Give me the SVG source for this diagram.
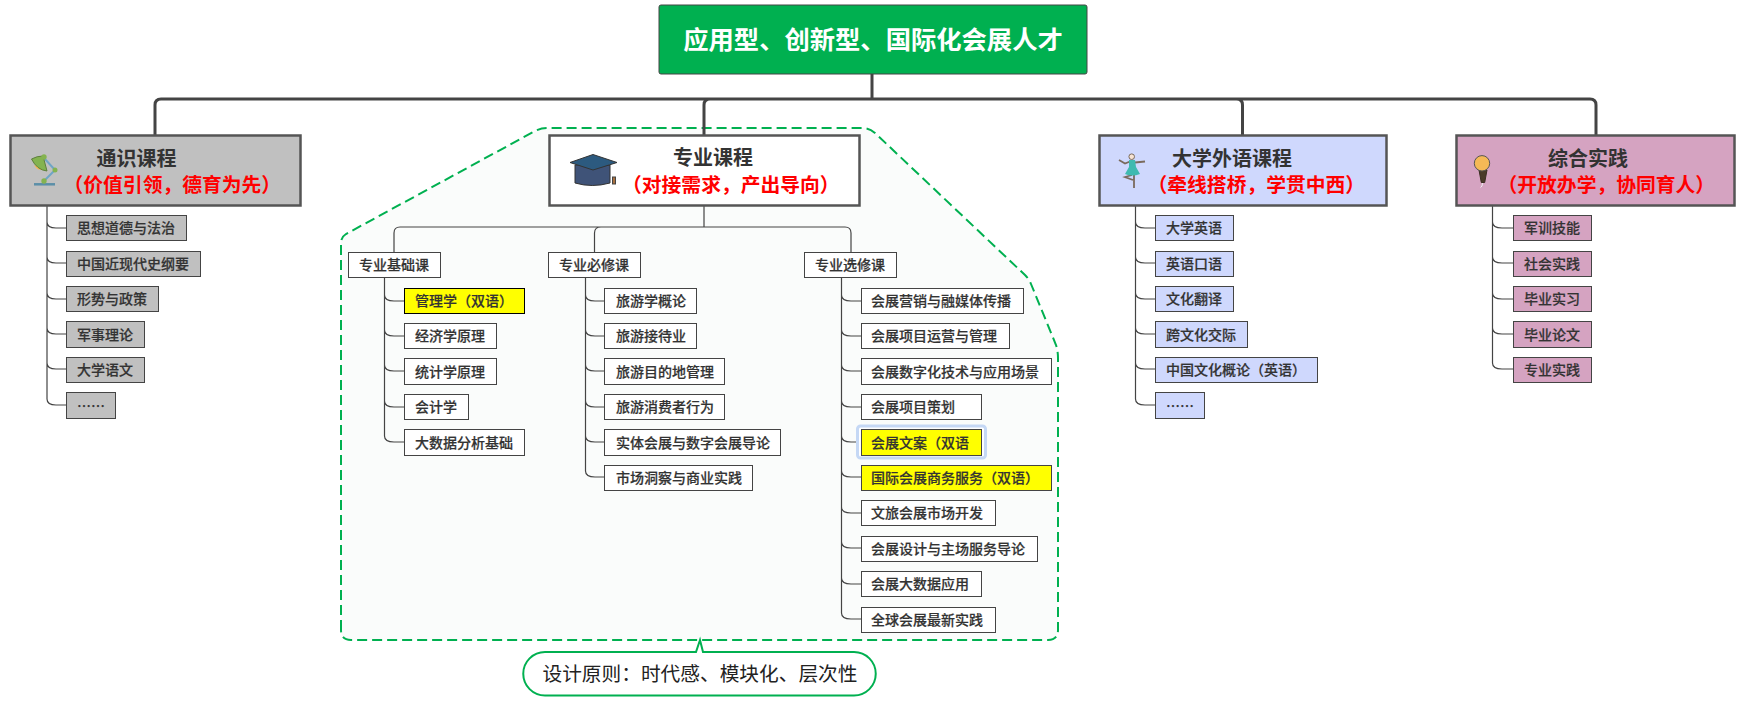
<svg xmlns="http://www.w3.org/2000/svg" width="1745" height="705" viewBox="0 0 1745 705">
<style>
text{font-family:"Noto Sans CJK SC","Noto Sans",sans-serif;fill:#333;font-size:14px;font-weight:500;stroke:#333;stroke-width:.2}
.t{font-size:20px;font-weight:700;stroke:none}
.r{font-size:19.800px;font-weight:700;fill:#f00;stroke:none}
.m{stroke:#444;stroke-width:3;fill:none}
.n{stroke:#444;stroke-width:1.2;fill:none}
rect{stroke:#444;stroke-width:1}
.head{stroke:#555;stroke-width:2.5}
.w{fill:#fff}.g{fill:#c0c0c0}.b{fill:#cfd8fd}.p{fill:#d5a3c1}.y{fill:#ff0}
</style>
<path id="boundary" d="M341,630 V243 Q341,237 346,234 L535,131 Q541,128 547,128 H862 Q869,128 875,133 L1025,275 Q1029,279 1031,284 L1056,345 Q1058,351 1058,358 V630 Q1058,640 1048,640 H351 Q341,640 341,630 Z" fill="#fafcfb" stroke="#00b050" stroke-width="2" stroke-dasharray="10 5"/>
<g id="connectors">
<path class="m" d="M872,74 V99 M155,135 V105 Q155,99 161,99 H1590 Q1596,99 1596,105 V135 M704,135 V105 Q704,99 710,99 M1242.500,135 V105 Q1242.500,99 1236.500,99"/>
<path class="n" d="M704,206 V227 M394,252 V233 Q394,227 400,227 H845 Q851,227 851,233 V252 M594.500,252 V233 Q594.500,227 601,227"/>
<path class="n" d="M47,206 V399 Q47,405 56,405 H66 M47,222 Q47,228 56,228 H66 M47,257 Q47,263 56,263 H66 M47,293 Q47,299 56,299 H66 M47,328 Q47,334 56,334 H66 M47,363 Q47,369 56,369 H66"/>
<path class="n" d="M1135.500,206 V399 Q1135.500,405 1145,405 H1155.500 M1135.500,222 Q1135.500,228 1145,228 H1155.500 M1135.500,257 Q1135.500,263 1145,263 H1155.500 M1135.500,293 Q1135.500,299 1145,299 H1155.500 M1135.500,328 Q1135.500,334 1145,334 H1155.500 M1135.500,363 Q1135.500,369 1145,369 H1155.500"/>
<path class="n" d="M1492.500,206 V363 Q1492.500,369 1502,369 H1513.500 M1492.500,222 Q1492.500,228 1502,228 H1513.500 M1492.500,257 Q1492.500,263 1502,263 H1513.500 M1492.500,293 Q1492.500,299 1502,299 H1513.500 M1492.500,328 Q1492.500,334 1502,334 H1513.500"/>
<path class="n" d="M384.500,277 V436 Q384.500,442 394,442 H404 M384.500,295 Q384.500,301 394,301 H404 M384.500,330 Q384.500,336 394,336 H404 M384.500,365 Q384.500,371 394,371 H404 M384.500,401 Q384.500,407 394,407 H404"/>
<path class="n" d="M585.500,277 V471 Q585.500,477 595,477 H604.500 M585.500,295 Q585.500,301 595,301 H604.500 M585.500,330 Q585.500,336 595,336 H604.500 M585.500,365 Q585.500,371 595,371 H604.500 M585.500,401 Q585.500,407 595,407 H604.500 M585.500,436 Q585.500,442 595,442 H604.500"/>
<path class="n" d="M841.500,277 V613 Q841.500,619 851,619 H861.500 M841.500,295 Q841.500,301 851,301 H861.500 M841.500,330 Q841.500,336 851,336 H861.500 M841.500,365 Q841.500,371 851,371 H861.500 M841.500,401 Q841.500,407 851,407 H861.500 M841.500,436 Q841.500,442 851,442 H861.500 M841.500,471 Q841.500,477 851,477 H861.500 M841.500,507 Q841.500,513 851,513 H861.500 M841.500,542 Q841.500,548 851,548 H861.500 M841.500,578 Q841.500,584 851,584 H861.500"/>
</g>
<g id="root"><rect x="659" y="5" width="428" height="69" rx="2" fill="#00b050" stroke="none"/><text x="873" y="49" text-anchor="middle" style="font-size:25.300px;font-weight:700;fill:#fff;stroke:none">应用型、创新型、国际化会展人才</text></g>

<g id="general"><rect class="head g" x="10.500" y="135.500" width="290" height="70"/>
<path d="M34,184.300 H55" stroke="#5b8fa8" stroke-width="2.500"/><path d="M44,181 L55,170 L44,158" stroke="#6fa5c5" stroke-width="2" fill="none"/>
<path d="M34,165 Q38,172 44,169 Z" fill="#f5b956"/><path d="M31.500,159 Q37,156 43,156 L47,171 Q37,170 31.500,159 Z" fill="#84b350" stroke="#5d7f3c"/>
<circle cx="44" cy="157" r="2.700" fill="#84b350"/><circle cx="55" cy="170" r="2.500" fill="#84b350"/><circle cx="44" cy="181" r="2.700" fill="#84b350"/>
<text class="t" x="96.500" y="166">通识课程</text><text class="r" x="63.500" y="192">（价值引领，德育为先）</text></g>
<g id="g1"><rect class="g" x="66.500" y="215.500" width="120" height="25"/><text x="77" y="233">思想道德与法治</text></g>
<g id="g2"><rect class="g" x="66.500" y="251.500" width="134" height="25"/><text x="77" y="268.500">中国近现代史纲要</text></g>
<g id="g3"><rect class="g" x="66.500" y="286.500" width="92" height="25"/><text x="77" y="304">形势与政策</text></g>
<g id="g4"><rect class="g" x="66.500" y="321.500" width="78" height="26"/><text x="77" y="339.500">军事理论</text></g>
<g id="g5"><rect class="g" x="66.500" y="357.500" width="78" height="25"/><text x="77" y="375">大学语文</text></g>
<g id="g6"><rect class="g" x="66.500" y="392.500" width="49" height="26"/><text x="77" y="410.500">……</text></g>

<g id="major"><rect class="head w" x="549.500" y="135.500" width="310" height="70"/>
<path d="M575,165 H610 V183 Q592,188 575,183 Z" fill="#3f5378" stroke="#333"/><path d="M570,162.500 L593,154.500 L617,162.500 L593,170 Z" fill="#2c5a7f" stroke="#333"/><rect x="612.500" y="177" width="3" height="7" fill="#a8703f" stroke="none"/>
<text class="t" x="673" y="165">专业课程</text><text class="r" x="622" y="192">（对接需求，产出导向）</text></g>
<g id="m-a"><rect class="w" x="348.500" y="252.500" width="92" height="25"/><text x="359" y="270">专业基础课</text></g>
<g id="m-b"><rect class="w" x="548.500" y="252.500" width="92" height="25"/><text x="559" y="270">专业必修课</text></g>
<g id="m-c"><rect class="w" x="804.500" y="252.500" width="92" height="25"/><text x="815" y="270">专业选修课</text></g>

<g id="a1"><rect class="y" x="404.500" y="288.500" width="120" height="25" style="stroke:#000"/><text x="415" y="306">管理学（双语）</text></g>
<g id="a2"><rect class="w" x="404.500" y="323.500" width="92" height="25"/><text x="415" y="341">经济学原理</text></g>
<g id="a3"><rect class="w" x="404.500" y="358.500" width="92" height="26"/><text x="415" y="376.500">统计学原理</text></g>
<g id="a4"><rect class="w" x="404.500" y="394.500" width="64" height="25"/><text x="415" y="412">会计学</text></g>
<g id="a5"><rect class="w" x="404.500" y="429.500" width="120" height="26"/><text x="415" y="447.500">大数据分析基础</text></g>

<g id="b1"><rect class="w" x="604.500" y="288.500" width="92" height="25"/><text x="616" y="306">旅游学概论</text></g>
<g id="b2"><rect class="w" x="604.500" y="323.500" width="92" height="25"/><text x="616" y="341">旅游接待业</text></g>
<g id="b3"><rect class="w" x="604.500" y="358.500" width="120" height="26"/><text x="616" y="376.500">旅游目的地管理</text></g>
<g id="b4"><rect class="w" x="604.500" y="394.500" width="120" height="25"/><text x="616" y="412">旅游消费者行为</text></g>
<g id="b5"><rect class="w" x="604.500" y="429.500" width="176" height="26"/><text x="616" y="447.500">实体会展与数字会展导论</text></g>
<g id="b6"><rect class="w" x="604.500" y="465.500" width="148" height="25"/><text x="616" y="483">市场洞察与商业实践</text></g>

<g id="c1"><rect class="w" x="861.500" y="288.500" width="162" height="25"/><text x="871" y="306">会展营销与融媒体传播</text></g>
<g id="c2"><rect class="w" x="861.500" y="323.500" width="148" height="25"/><text x="871" y="341">会展项目运营与管理</text></g>
<g id="c3"><rect class="w" x="861.500" y="358.500" width="190" height="26"/><text x="871" y="376.500">会展数字化技术与应用场景</text></g>
<g id="c4"><rect class="w" x="861.500" y="394.500" width="120" height="25"/><text x="871" y="412">会展项目策划</text></g>
<g id="c5"><rect x="857.500" y="426" width="128" height="32" rx="3" fill="#fff" style="stroke:#c5d8f5;stroke-width:3"/><rect class="y" x="861.500" y="429.500" width="120" height="26"/><text x="871" y="447.500">会展文案（双语</text></g>
<g id="c6"><rect class="y" x="861.500" y="465.500" width="190" height="25"/><text x="871" y="483">国际会展商务服务（双语）</text></g>
<g id="c7"><rect class="w" x="861.500" y="500.500" width="134" height="25"/><text x="871" y="518">文旅会展市场开发</text></g>
<g id="c8"><rect class="w" x="861.500" y="536.500" width="176" height="25"/><text x="871" y="554">会展设计与主场服务导论</text></g>
<g id="c9"><rect class="w" x="861.500" y="571.500" width="120" height="25"/><text x="871" y="589">会展大数据应用</text></g>
<g id="c10"><rect class="w" x="861.500" y="607.500" width="134" height="25"/><text x="871" y="625">全球会展最新实践</text></g>

<g id="foreign"><rect class="head b" x="1099.500" y="135.500" width="287" height="70"/>
<path d="M1119,160 L1125,163.500 L1130,161.500 M1135,162.500 L1145,161.500 M1134,174 V188 M1132,175 L1125,177 L1133,180" stroke="#7a6a5c" stroke-width="1.800" fill="none"/>
<circle cx="1131.700" cy="156.700" r="2.800" fill="#f7e3d3" stroke="#7a6a5c"/><path d="M1129,160 H1135 L1136,167 L1140,174 Q1132,177 1125,174 L1129,167 Z" fill="#3fbab0"/>
<text class="t" x="1172" y="166">大学外语课程</text><text class="r" x="1147.500" y="192">（牵线搭桥，学贯中西）</text></g>
<g id="f1"><rect class="b" x="1155.500" y="215.500" width="78" height="25"/><text x="1166" y="233">大学英语</text></g>
<g id="f2"><rect class="b" x="1155.500" y="251.500" width="78" height="25"/><text x="1166" y="268.500">英语口语</text></g>
<g id="f3"><rect class="b" x="1155.500" y="286.500" width="78" height="25"/><text x="1166" y="304">文化翻译</text></g>
<g id="f4"><rect class="b" x="1155.500" y="321.500" width="92" height="26"/><text x="1166" y="339.500">跨文化交际</text></g>
<g id="f5"><rect class="b" x="1155.500" y="357.500" width="162" height="25"/><text x="1166" y="375">中国文化概论（英语）</text></g>
<g id="f6"><rect class="b" x="1155.500" y="392.500" width="49" height="26"/><text x="1166" y="410.500">……</text></g>

<g id="practice"><rect class="head p" x="1456.500" y="135.500" width="278" height="70"/>
<path d="M1479,170 H1487 L1484.700,182.500 H1481.300 Z" fill="#4a3a28" stroke="#3a2d20"/><path d="M1482.500,183 L1482,186 L1480.500,187.500" stroke="#eee" fill="none"/>
<circle cx="1482" cy="163.300" r="7.700" fill="#f5b956" stroke="#555"/>
<text class="t" x="1548" y="166">综合实践</text><text class="r" x="1497.500" y="192">（开放办学，协同育人）</text></g>
<g id="p1"><rect class="p" x="1513.500" y="215.500" width="78" height="25"/><text x="1524" y="233">军训技能</text></g>
<g id="p2"><rect class="p" x="1513.500" y="251.500" width="78" height="25"/><text x="1524" y="268.500">社会实践</text></g>
<g id="p3"><rect class="p" x="1513.500" y="286.500" width="78" height="25"/><text x="1524" y="304">毕业实习</text></g>
<g id="p4"><rect class="p" x="1513.500" y="321.500" width="78" height="26"/><text x="1524" y="339.500">毕业论文</text></g>
<g id="p5"><rect class="p" x="1513.500" y="357.500" width="78" height="25"/><text x="1524" y="375">专业实践</text></g>

<g id="callout"><path d="M700,640 L703,652 H854 A21.500,21.500 0 0 1 854,695.500 H545 A21.500,21.500 0 0 1 545,652 H696 Z" fill="#fff" stroke="#00b050" stroke-width="2"/>
<text x="700" y="681" text-anchor="middle" style="font-size:19.700px;font-weight:400;fill:#222;stroke:none">设计原则：时代感、模块化、层次性</text></g>
</svg>
